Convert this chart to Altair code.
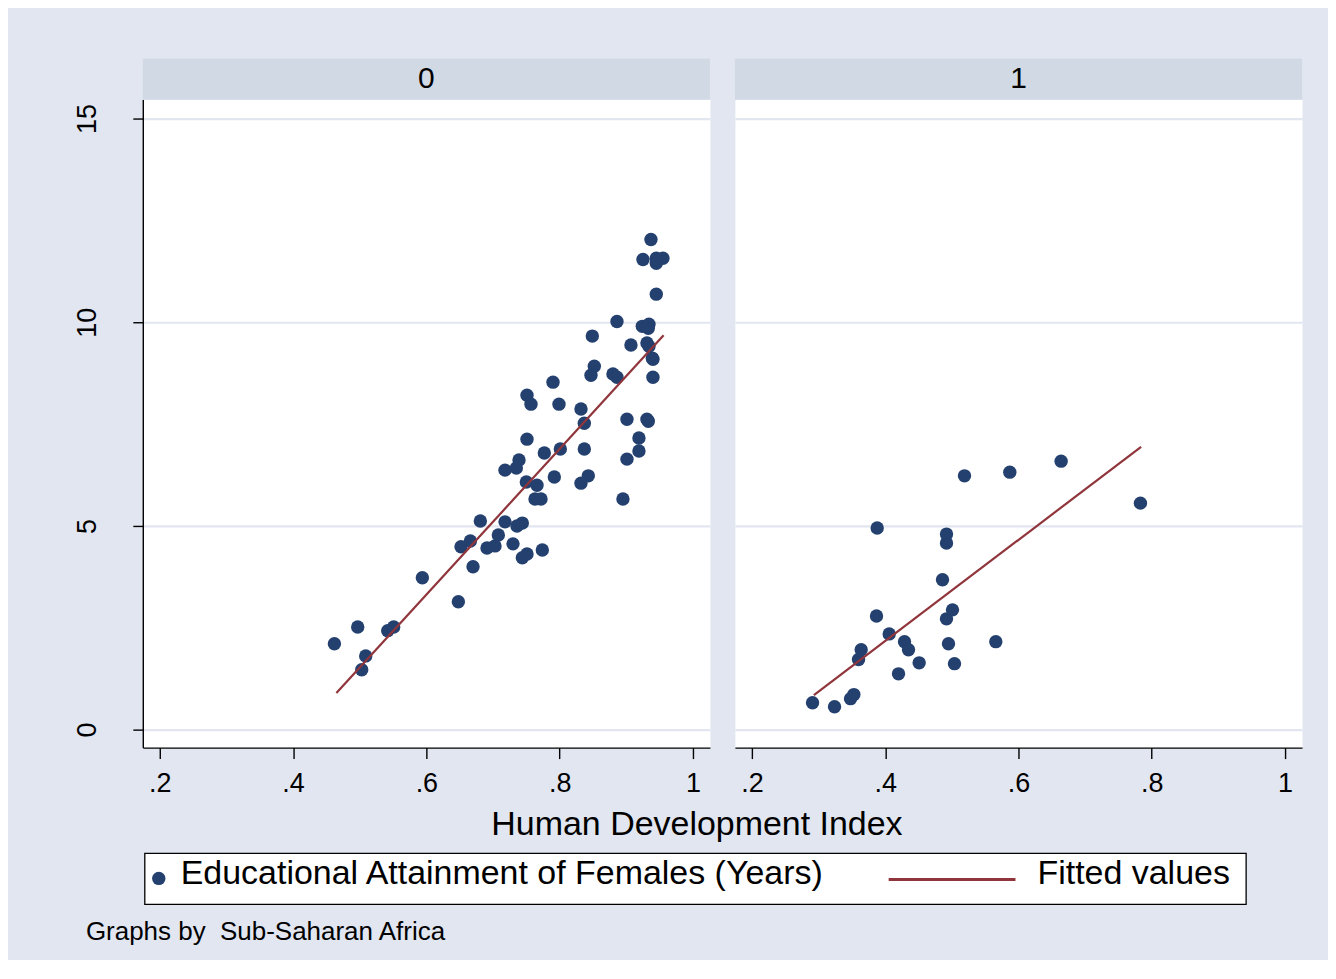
import altair as alt
import pandas as pd

# ---------------- data ----------------
panels = ["0", "1"]

hdi_0 = [0.937, 0.925, 0.945, 0.955, 0.945, 0.945, 0.886, 0.924, 0.934, 0.933,
         0.849, 0.907, 0.931, 0.934, 0.939, 0.940, 0.852, 0.847, 0.880, 0.886,
         0.940, 0.790, 0.751, 0.757, 0.799, 0.832, 0.837, 0.901, 0.931, 0.933,
         0.751, 0.919, 0.777, 0.801, 0.837, 0.919, 0.901, 0.718, 0.735, 0.739,
         0.750, 0.766, 0.792, 0.843, 0.832, 0.763, 0.772, 0.895, 0.462, 0.497,
         0.509, 0.503, 0.542, 0.551, 0.594, 0.648, 0.652, 0.666, 0.670, 0.681,
         0.691, 0.703, 0.708, 0.718, 0.730, 0.736, 0.744, 0.744, 0.751, 0.774]
edu_0 = [12.03, 11.54, 11.57, 11.57, 11.45, 10.69, 10.02, 9.90, 9.95, 9.85,
         9.66, 9.44, 9.49, 9.41, 9.12, 9.09, 8.92, 8.70, 8.73, 8.65,
         8.65, 8.53, 8.21, 7.99, 7.99, 7.87, 7.52, 7.62, 7.62, 7.57,
         7.13, 7.16, 6.79, 6.89, 6.89, 6.84, 6.64, 6.37, 6.42, 6.62,
         6.08, 6.00, 6.20, 6.23, 6.05, 5.66, 5.66, 5.66, 2.11, 2.52,
         1.81, 1.47, 2.43, 2.52, 3.73, 3.14, 4.49, 4.63, 4.00, 5.12,
         4.46, 4.51, 4.78, 5.10, 4.56, 5.00, 5.07, 4.22, 4.31, 4.41]

hdi_1 = [0.291, 0.324, 0.348, 0.353, 0.360, 0.364, 0.387, 0.388, 0.406, 0.420,
         0.429, 0.435, 0.451, 0.486, 0.492, 0.501, 0.492, 0.492, 0.495, 0.504,
         0.519, 0.566, 0.587, 0.664, 0.783]
edu_1 = [0.66, 0.56, 0.76, 0.86, 1.72, 1.96, 2.79, 4.95, 2.35, 1.37,
         2.16, 1.96, 1.64, 3.68, 2.72, 2.94, 4.80, 4.58, 2.11, 1.62,
         6.23, 2.16, 6.32, 6.59, 5.56]

fit_hdi_0 = [0.465, 0.956]
fit_edu_0 = [0.90, 9.68]
fit_hdi_1 = [0.293, 0.784]
fit_edu_1 = [0.85, 6.94]

x_ticks = [0.2, 0.4, 0.6, 0.8, 1.0]
y_ticks = [0, 5, 10, 15]
x_title = ["Human Development Index"]
legend_labels = ["Educational Attainment of Females (Years)", "Fitted values"]
note_text = ["Graphs by \u00a0Sub-Saharan Africa"]

# ---------------- style ----------------
FONT = "Liberation Sans"
BG = "#e1e6f0"
STRIP = "#d1d9e5"
GRID = "#e1e6f0"
NAVY = "#24406f"
MAROON = "#90353b"
W, H = 568, 649
X_DOMAIN = [0.1745, 1.0255]
Y_DOMAIN = [-0.441, 15.466]


def panel(i, hdi, edu, fx, fy, left):
    pts = pd.DataFrame({"hdi": hdi, "edu": edu})
    fit = pd.DataFrame({"hdi": fx, "edu": fy})
    one = pd.DataFrame({"panel": [panels[i]]})
    xscale = alt.Scale(domain=X_DOMAIN, nice=False, zero=False)
    yscale = alt.Scale(domain=Y_DOMAIN, nice=False, zero=False)
    xaxis = alt.Axis(values=x_ticks, title=None, grid=False,
                     labelExpr="replace(format(datum.value, '~g'), '0.', '.')",
                     labelFont=FONT, labelFontSize=27, labelColor="black",
                     labelPadding=12, labelFlush=False,
                     tickSize=11, tickColor="black", tickWidth=1.4,
                     domainColor="black", domainWidth=1.4)
    if left:
        yaxis = alt.Axis(values=y_ticks, title=None, grid=True, gridColor=GRID,
                         gridWidth=2.2, labelAngle=270, labelAlign="center",
                         labelBaseline="alphabetic", labelPadding=37,
                         labelFont=FONT, labelFontSize=27, labelColor="black",
                         labelFlush=False,
                         tickSize=10, tickColor="black", tickWidth=1.4,
                         domainColor="black", domainWidth=1.4)
    else:
        yaxis = alt.Axis(values=y_ticks, title=None, grid=True, gridColor=GRID,
                         gridWidth=2.2, labels=False, ticks=False, domain=False)

    band = alt.Chart(one).mark_rect(color=STRIP).encode(
        x=alt.value(0), x2=alt.value(W), y=alt.value(-41), y2=alt.value(0))
    head = alt.Chart(one).mark_text(font=FONT, fontSize=30, color="black",
                                    align="center", baseline="alphabetic").encode(
        x=alt.value(W / 2), y=alt.value(-12), text="panel:N")
    points = alt.Chart(pts).mark_circle(size=180, color=NAVY, opacity=1).encode(
        x=alt.X("hdi:Q", scale=xscale, axis=xaxis),
        y=alt.Y("edu:Q", scale=yscale, axis=yaxis))
    line = alt.Chart(fit).mark_line(color=MAROON, strokeWidth=2.2).encode(
        x="hdi:Q", y="edu:Q")
    layers = [band, head, points, line]

    if left:
        bbox = alt.Chart(one).mark_rect(opacity=0).encode(
            x=alt.value(-134), x2=alt.value(1186), y=alt.value(-90), y2=alt.value(860))
        title = alt.Chart(pd.DataFrame({"t": x_title})).mark_text(
            font=FONT, fontSize=34, color="black", align="center",
            baseline="alphabetic").encode(x=alt.value(555), y=alt.value(737), text="t:N")
        box = alt.Chart(one).mark_rect(fill="white", stroke="black", strokeWidth=1.3).encode(
            x=alt.value(2), x2=alt.value(1105), y=alt.value(755), y2=alt.value(806))
        dot = alt.Chart(one).mark_circle(size=180, color=NAVY, opacity=1).encode(
            x=alt.value(16), y=alt.value(780))
        lab1 = alt.Chart(pd.DataFrame({"t": [legend_labels[0]]})).mark_text(
            font=FONT, fontSize=34, color="black", align="left",
            baseline="alphabetic").encode(x=alt.value(38), y=alt.value(786), text="t:N")
        seg = alt.Chart(one).mark_rule(color=MAROON, strokeWidth=3).encode(
            x=alt.value(747), x2=alt.value(874), y=alt.value(781))
        lab2 = alt.Chart(pd.DataFrame({"t": [legend_labels[1]]})).mark_text(
            font=FONT, fontSize=34, color="black", align="left",
            baseline="alphabetic").encode(x=alt.value(896), y=alt.value(786), text="t:N")
        note = alt.Chart(pd.DataFrame({"t": note_text})).mark_text(
            font=FONT, fontSize=26, color="black", align="left",
            baseline="alphabetic").encode(x=alt.value(-57), y=alt.value(842), text="t:N")
        layers = [bbox] + layers + [title, box, dot, lab1, seg, lab2, note]

    return alt.layer(*layers).properties(width=W, height=H)


left = panel(0, hdi_0, edu_0, fit_hdi_0, fit_edu_0, True)
right = panel(1, hdi_1, edu_1, fit_hdi_1, fit_edu_1, False)

chart = alt.hconcat(left, right, spacing=25, bounds="flush", padding=0).configure(
    background=BG, font=FONT
).configure_view(fill="white", stroke="transparent")

chart.save("out.html", embed_options={"renderer": "svg", "actions": False})
